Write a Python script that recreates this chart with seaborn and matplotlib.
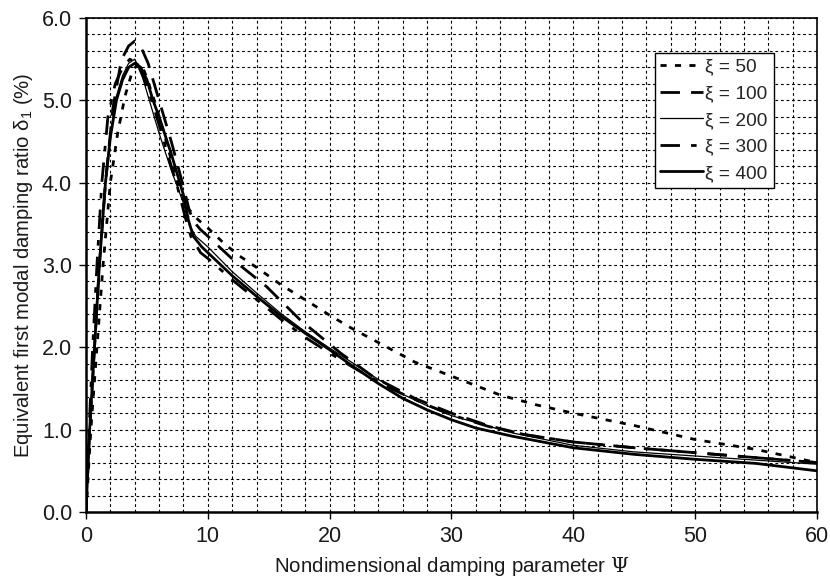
import matplotlib
matplotlib.use("Agg")
import matplotlib.pyplot as plt
import seaborn as sns
import numpy as np
import pandas as pd
from matplotlib.ticker import MultipleLocator

# ---- data ----
x_50 = [0, 0.4, 0.9, 1.4, 2.0, 2.6, 3.2, 3.8, 4.3, 4.8, 5.5, 6.5, 7.5, 8.3, 9.2, 10, 11.2, 12.5, 14.3, 16, 18.4, 20, 21.7, 24.1, 27, 30, 34, 37, 40, 45, 50, 55, 60]
y_50 = [0, 1.0, 2.0, 3.0, 4.0, 4.6, 5.05, 5.35, 5.45, 5.35, 5.05, 4.55, 4.0, 3.7, 3.55, 3.45, 3.28, 3.12, 2.94, 2.76, 2.54, 2.39, 2.24, 2.05, 1.82, 1.65, 1.42, 1.30, 1.20, 1.05, 0.88, 0.76, 0.60]

x_100 = [0, 0.3, 0.7, 1.1, 1.6, 2.2, 2.9, 3.5, 4.0, 4.5, 5.1, 6.0, 7.0, 8.0, 8.5, 9.0, 9.4, 10, 12.1, 14.8, 17.6, 20.9, 23.6, 27, 30, 33, 36, 40, 45, 50, 55, 60]
y_100 = [0, 1.0, 2.0, 3.0, 4.0, 4.9, 5.49, 5.66, 5.72, 5.65, 5.45, 5.0, 4.5, 3.95, 3.65, 3.5, 3.43, 3.35, 3.06, 2.74, 2.33, 1.93, 1.64, 1.38, 1.2, 1.05, 0.94, 0.85, 0.78, 0.72, 0.66, 0.60]

x_200 = [0, 0.3, 0.7, 1.1, 1.5, 2.0, 2.5, 3.0, 3.5, 4.0, 4.5, 5.0, 6.0, 7.0, 8.0, 8.5, 9.0, 10, 12, 14, 16, 18, 20, 22, 24, 26, 28, 30, 35, 40, 45, 50, 55, 60]
y_200 = [0, 1.0, 2.0, 3.0, 3.9, 4.6, 5.05, 5.3, 5.45, 5.5, 5.35, 5.1, 4.6, 4.15, 3.75, 3.48, 3.35, 3.22, 2.92, 2.66, 2.41, 2.19, 1.99, 1.80, 1.61, 1.43, 1.29, 1.17, 0.96, 0.81, 0.73, 0.68, 0.63, 0.58]

x_300 = [0, 0.25, 0.55, 0.9, 1.3, 1.8, 2.4, 3.0, 3.6, 4.2, 4.8, 5.5, 6.5, 7.5, 8.2, 8.6, 9.4, 10, 12, 14, 16, 18, 20, 22, 25, 28, 30, 33, 36, 40, 45, 50, 55, 60]
y_300 = [0, 1.0, 2.0, 3.0, 4.0, 4.8, 5.2, 5.4, 5.5, 5.45, 5.25, 4.95, 4.45, 3.95, 3.55, 3.35, 3.15, 3.08, 2.82, 2.58, 2.34, 2.12, 1.93, 1.75, 1.5, 1.3, 1.18, 1.04, 0.94, 0.85, 0.78, 0.72, 0.66, 0.60]

x_400 = [0, 0.3, 0.7, 1.1, 1.6, 2.0, 2.5, 3.0, 3.5, 4.0, 4.5, 5.0, 5.5, 6.0, 7.0, 8.0, 8.4, 8.8, 9.5, 10, 12, 14, 16, 18, 20, 22, 24, 26, 28, 30, 32, 35, 40, 45, 50, 55, 60]
y_400 = [0, 1.0, 2.0, 3.0, 4.0, 4.55, 5.0, 5.25, 5.4, 5.45, 5.4, 5.25, 5.0, 4.8, 4.35, 3.85, 3.55, 3.35, 3.22, 3.15, 2.87, 2.62, 2.38, 2.17, 1.97, 1.76, 1.56, 1.38, 1.24, 1.12, 1.02, 0.92, 0.78, 0.70, 0.64, 0.59, 0.50]

labels = ["ξ = 50", "ξ = 100", "ξ = 200", "ξ = 300", "ξ = 400"]
xs = [x_50, x_100, x_200, x_300, x_400]
ys = [y_50, y_100, y_200, y_300, y_400]

styles = [
    dict(linestyle=(0, (2.2, 3.0)), linewidth=2.0),
    dict(linestyle=(0, (7, 4)), linewidth=2.0),
    dict(linestyle="-", linewidth=0.9),
    dict(linestyle=(0, (7, 4, 2, 4)), linewidth=2.0),
    dict(linestyle="-", linewidth=2.0),
]

sns.set_theme(style="white")
plt.rcParams["font.family"] = ["Liberation Sans", "DejaVu Sans"]
plt.rcParams["mathtext.fontset"] = "dejavuserif"

fig = plt.figure(figsize=(8.3, 5.78), dpi=100)
ax = fig.add_axes([0.1036, 0.1142, 0.8807, 0.8547])

for x, y, lab, st in zip(xs, ys, labels, styles):
    df = pd.DataFrame({"x": x, "y": y})
    sns.lineplot(data=df, x="x", y="y", ax=ax, color="black", label=lab,
                 sort=False, estimator=None, **st)

ax.set_xlim(0, 60)
ax.set_ylim(0, 6.0)
ax.xaxis.set_major_locator(MultipleLocator(10))
ax.xaxis.set_minor_locator(MultipleLocator(2))
ax.yaxis.set_major_locator(MultipleLocator(1.0))
ax.yaxis.set_minor_locator(MultipleLocator(0.2))
ax.set_yticks(np.arange(0, 6.01, 1.0))
ax.set_yticklabels([f"{v:.1f}" for v in np.arange(0, 6.01, 1.0)])

ax.grid(which="both", linestyle=(0, (2.5, 2.5)), color="black", linewidth=0.8)
ax.set_axisbelow(True)

ax.tick_params(which="major", direction="out", length=5, width=1.0,
               labelsize=15.5, color="black", labelcolor="#1a1a1a",
               bottom=True, left=True, pad=5)
ax.tick_params(which="minor", length=0)

for side in ["left", "bottom"]:
    ax.spines[side].set_linewidth(1.8)
    ax.spines[side].set_color("black")
for side in ["top", "right"]:
    ax.spines[side].set_linewidth(1.2)
    ax.spines[side].set_color("black")

ax.set_xlabel("Nondimensional damping parameter $\\Psi$", fontsize=14.8,
              color="#1a1a1a", labelpad=6)
ax.set_ylabel("Equivalent first modal damping ratio δ$_\\mathregular{1}$ (%)",
              fontsize=14.6, color="#1a1a1a", labelpad=5)

leg = ax.legend(loc="upper left", bbox_to_anchor=(0.778, 0.93), frameon=True,
                fontsize=13.8, handlelength=2.2, handletextpad=0.15,
                borderpad=0.3, labelspacing=0.48, fancybox=False, borderaxespad=0)
leg.get_frame().set_edgecolor("black")
leg.get_frame().set_linewidth(1.0)
leg.get_frame().set_alpha(1)

fig.savefig("out.png", dpi=100)
